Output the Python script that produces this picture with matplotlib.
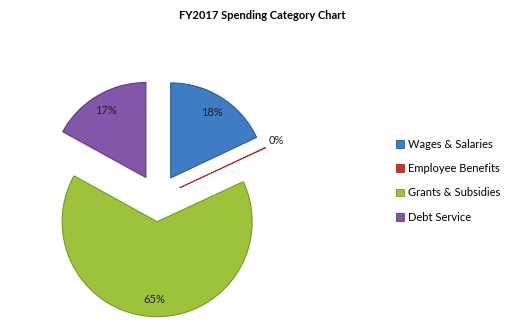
import matplotlib.pyplot as plt
from matplotlib.patches import Patch

categories = ['Wages & Salaries', 'Employee Benefits', 'Grants & Subsidies', 'Debt Service']
values = [18.0, 0.1, 65.0, 17.0]
colors = ['#3f7cc4', '#c0392f', '#9dc33b', '#8256a8']
edges = ['#2c5a91', '#b02a22', '#78962a', '#5e3d7d']

plt.rcParams['font.family'] = ['Lato', 'DejaVu Sans']

fig = plt.figure(figsize=(5.2, 3.33), dpi=100)
fig.patch.set_facecolor('white')

ax = fig.add_axes([0.0298, -0.0225, 0.548, 0.856])
wedges, texts, autotexts = ax.pie(
    values, colors=colors, startangle=90, counterclock=False,
    explode=[0.25] * len(values), autopct='%.0f%%', pctdistance=0.82,
    wedgeprops=dict(linewidth=0.8), textprops=dict(fontsize=8, color='#222222'))
for w, ec in zip(wedges, edges):
    w.set_edgecolor(ec)
wedges[1].set_linewidth(0.6)

# the 0% label sits outside its slice
autotexts[1].set_position((1.16, 0.6))
autotexts[1].set_ha('left')

ax.set_xlim(-1.5, 1.5)
ax.set_ylim(-1.5, 1.5)
ax.set_aspect('equal')
ax.axis('off')

fig.text(0.505, 0.952, 'FY2017 Spending Category Chart', ha='center', va='center',
         fontsize=8, fontweight='bold')

handles = [Patch(facecolor=c, edgecolor=e, linewidth=0.6) for c, e in zip(colors, edges)]
fig.legend(handles, categories, loc='center left', bbox_to_anchor=(0.742, 0.457),
           frameon=False, fontsize=8, handlelength=0.7, handleheight=0.7,
           handletextpad=0.35, labelspacing=1.2)

fig.savefig('out.png', dpi=100)
